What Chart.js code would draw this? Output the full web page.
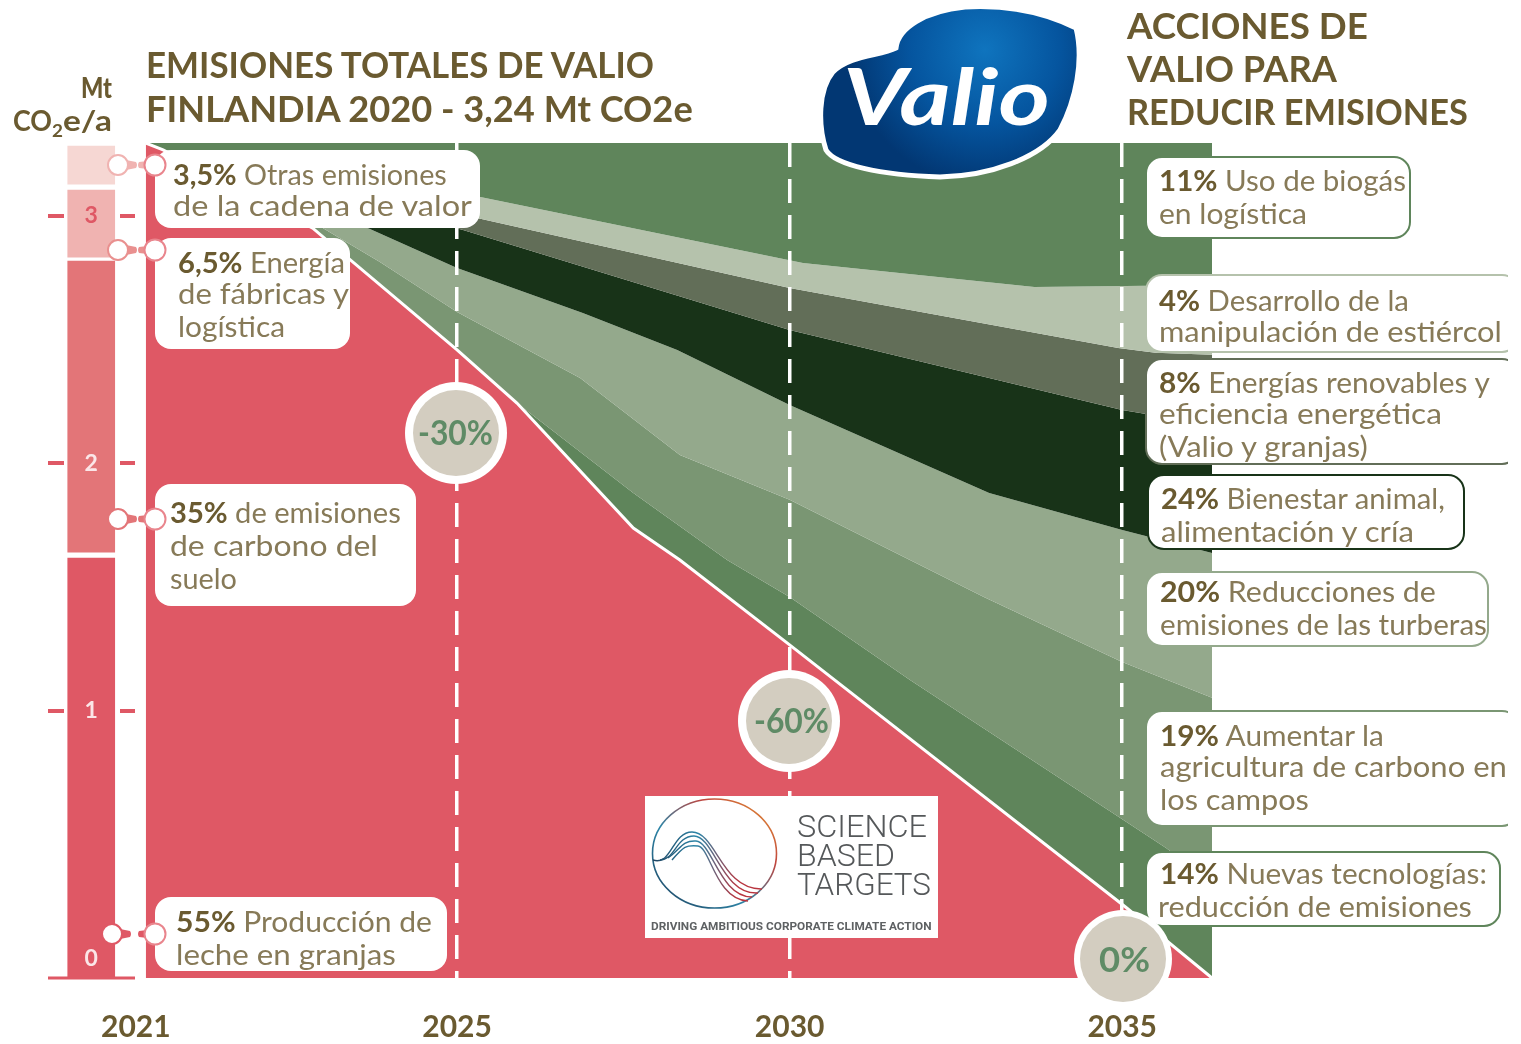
<!DOCTYPE html>
<html lang="es"><head><meta charset="utf-8">
<style>
html,body{margin:0;padding:0;background:#fff;overflow:hidden}
#wrap{position:relative;width:1521px;height:1044px}
canvas{position:absolute;left:0;top:0}
svg{position:absolute;left:0;top:0}
</style>
<script src="https://cdn.jsdelivr.net/npm/chart.js@4/dist/chart.umd.min.js"></script>
</head><body>
<div id="wrap"><canvas id="c" width="1521" height="1044"></canvas><svg id="o" width="1521" height="1044" xmlns="http://www.w3.org/2000/svg"></svg></div>
<script>
// Axis labels
const xTickLabels = ['2021','2025','2030','2035'];
const xTickYears  = [2020.17,2025,2030,2035];
const yTickValues = [0,1,2,3];
const AXIS_X_MIN = 2018.85, AXIS_X_MAX = 2036.35, AXIS_Y_MIN = -0.079, AXIS_Y_MAX = 3.295;

// Boundary lines of the wedge: [year, Mt CO2e/a], top to bottom
const biogasLine   = [[2020.32,3.295],[2020.58,3.267],[2025.35,3.077],[2030.20,2.810],[2033.68,2.713],[2035.05,2.717],[2036.35,2.721]];
const manureLine   = [[2020.32,3.295],[2020.58,3.267],[2025.30,2.992],[2030,2.709],[2034.94,2.467],[2035.5,2.447],[2036.35,2.439]];
const energyLine   = [[2020.32,3.295],[2020.58,3.267],[2025.09,2.943],[2030,2.539],[2035,2.216],[2036.35,2.156]];
const animalLine   = [[2020.32,3.295],[2020.58,3.267],[2023.69,2.947],[2025,2.790],[2026.89,2.608],[2028.31,2.459],[2030,2.236],[2033,1.881],[2035,1.731],[2036.35,1.638]];
const peatLine     = [[2020.32,3.295],[2020.58,3.267],[2022.98,2.952],[2023.84,2.814],[2025,2.612],[2026.85,2.345],[2028.35,2.034],[2030,1.853],[2032.92,1.461],[2035,1.198],[2036.35,1.053]];
const soilLine     = [[2020.32,3.295],[2020.58,3.267],[2022.83,2.951],[2025,2.459],[2025.90,2.244],[2027.65,1.881],[2029.06,1.610],[2030,1.461],[2031.81,1.125],[2035.66,0.446],[2036.35,0.305]];
const remainLine   = [[2020.32,3.295],[2020.58,3.267],[2022.83,2.951],[2025,2.459],[2025.90,2.244],[2027.65,1.739],[2028.35,1.610],[2030,1.267],[2035.05,0.208],[2036.35,-0.079]];

// Left column: share of emissions, [low, high] in Mt
const columnYear = 2019.50;
const farmSpan   = [-0.079,1.618];
const soilSpan   = [1.642,2.818];
const plantSpan  = [2.834,3.105];
const otherSpan  = [3.129,3.283];

const RED='#df5865', G1='#5f855b', G2='#b5c2ac', G3='#626e58', G4='#183318', G5='#94a98c', G6='#7a9673';
const toPts = a => a.map(p=>({x:p[0],y:p[1]}));
function area(data,fill,color,extra){return Object.assign({type:'line',data:toPts(data),fill,backgroundColor:color,borderColor:color,borderWidth:0,pointRadius:0,tension:0,order:2},extra||{});}
function col(span,color){return {type:'bar',data:[{x:columnYear,y:span}],backgroundColor:color,barThickness:47,grouped:false,order:1};}

const axisMarks={id:'axisMarks',afterDatasetsDraw(ch){
  const y=ch.scales.y,c=ch.ctx;c.save();c.strokeStyle=RED;c.lineWidth=4;
  y.ticks.forEach(t=>{if(t.value===0)return;const p=Math.round(y.getPixelForValue(t.value));
    c.beginPath();c.moveTo(48,p);c.lineTo(64,p);c.moveTo(120,p);c.lineTo(135,p);c.stroke();});
  const b=y.bottom;c.lineWidth=3;c.beginPath();c.moveTo(48,b);c.lineTo(135,b);c.stroke();c.restore();}};

new Chart(document.getElementById('c'),{
  data:{datasets:[
    area(biogasLine,'end',G1),
    area(manureLine,0,G2),
    area(energyLine,1,G3),
    area(animalLine,2,G4),
    area(peatLine,3,G5),
    area(soilLine,4,G6),
    area(remainLine,5,G1),
    area(remainLine,'start',RED,{borderColor:'#fff',borderWidth:3,order:0}),
    col(farmSpan,RED),col(soilSpan,'#e37578'),col(plantSpan,'#f0b3b1'),col(otherSpan,'#f6d7d3')
  ]},
  plugins:[axisMarks],
  options:{responsive:false,animation:false,
    layout:{padding:{left:48,right:309,top:143,bottom:0}},
    plugins:{legend:{display:false},tooltip:{enabled:false}},
    scales:{
      x:{type:'linear',offset:false,min:AXIS_X_MIN,max:AXIS_X_MAX,
        afterBuildTicks(s){s.ticks=xTickYears.map(v=>({value:v}));},
        afterFit(s){s.height=66;},
        grid:{offset:false,z:1,color:c=>c.index===0?'rgba(0,0,0,0)':'#fff',lineWidth:3.5,drawTicks:false},
        border:{display:false,dash:[24,12]},
        ticks:{autoSkip:false,maxRotation:0,padding:31,color:'#6a5a30',font:{family:'Lato',weight:'bold',size:30},
          callback:(v,i)=>xTickLabels[i]}},
      y:{type:'linear',min:AXIS_Y_MIN,max:AXIS_Y_MAX,position:{x:2019.60},
        afterBuildTicks(s){s.ticks=yTickValues.map(v=>({value:v}));},
        grid:{display:false,drawTicks:false},border:{display:false},
        ticks:{z:2,padding:0,color:c=>c.tick.value===3?RED:'#fbe6e8',font:{family:'Lato',weight:'bold',size:23}}}
    }
  }
});

// Text & decoration overlay
const NS='http://www.w3.org/2000/svg', svg=document.getElementById('o');
function el(n,a,parent){const e=document.createElementNS(NS,n);for(const k in a)e.setAttribute(k,a[k]);(parent||svg).appendChild(e);return e;}
function txt(x1,x2,base,parts,size,family){
  const t=el('text',{x:0,y:0,'font-family':family||'Lato','font-size':size});
  parts.forEach(p=>{const s=el('tspan',{fill:p[1],'font-weight':p[2]||400,'font-style':p[3]||'normal'},t);s.textContent=p[0];});
  const w=t.getComputedTextLength();
  t.setAttribute('transform','translate('+x1+','+base+') scale('+((x2-x1)/w)+',1)');return t;
}
const BOLD='#6a5a30', REG='#877a58';

// titles
[[146,654,78,'EMISIONES TOTALES DE VALIO'],[146,693,122,'FINLANDIA 2020 - 3,24 Mt CO2e'],
 [1127,1368,39,'ACCIONES DE'],[1127,1337,82,'VALIO PARA'],[1127,1468,125,'REDUCIR EMISIONES']]
 .forEach(r=>txt(r[0],r[1],r[2],[[r[3],BOLD,700]],36));
txt(81,112,98,[['Mt',BOLD,900]],28);
txt(13,52,131,[['CO',BOLD,700]],28);
txt(52,63,137,[['2',BOLD,700]],17);
txt(63,112,131,[['e/a',BOLD,700]],28);

// connector dots
[[118,165,'#f0b3b1'],[118,250,'#e9908f'],[118,519,'#e37578'],[112,934,RED]].forEach(r=>{
  const [lx,y,c]=r;
  el('path',{d:`M${lx+8} ${y-5} L${lx+18} ${y-3} Q${lx+20} ${y} ${lx+18} ${y+3} L${lx+8} ${y+5}Z`,fill:c});
  el('path',{d:`M156 ${y-5} L${146-7} ${y-3} Q${146-9} ${y} ${146-7} ${y+3} L156 ${y+5}Z`,fill:c});
  el('circle',{cx:lx,cy:y,r:10,fill:'#fff',stroke:c,'stroke-width':2});
});

// callout boxes: x,y,w,h,stroke
const boxes=[
 [155,150,325,78,'none'],[155,238,195,111,'none'],[155,484,261,122,'none'],[155,897,292,74,'none'],
 [1146,157,264,81,G1],[1146,275,372,77,G2],[1146,359,372,105,G3],[1148,475,316,74,G4],
 [1146,572,342,74,G5],[1146,711,372,115,G6],[1146,852,354,74,G1]];
boxes.forEach(b=>el('rect',{x:b[0],y:b[1],width:b[2],height:b[3],rx:16,ry:16,fill:'#fff',stroke:b[4],'stroke-width':2}));
// covers the part of right boxes running off the clip edge at 1508
el('rect',{x:1508,y:270,width:13,height:200,fill:'#fff'});
el('rect',{x:1508,y:705,width:13,height:125,fill:'#fff'});
[[155,165],[155,250],[155,519],[155,934]].forEach(p=>el('circle',{cx:p[0],cy:p[1],r:10.5,fill:'#fff',stroke:'#e9858d','stroke-width':2}));

const lines=[
 [173,447,185,'3,5%',' Otras emisiones'],[173,472,216,'','de la cadena de valor'],
 [178,345,273,'6,5%',' Energía'],[178,349,304,'','de fábricas y'],[178,285,337,'','logística'],
 [170,401,523,'35%',' de emisiones'],[170,378,556,'','de carbono del'],[170,237,589,'','suelo'],
 [176,432,932,'55%',' Producción de'],[176,396,965,'','leche en granjas'],
 [1159,1406,191,'11%',' Uso de biogás'],[1159,1307,224,'','en logística'],
 [1159,1409,311,'4%',' Desarrollo de la'],[1159,1502,342,'','manipulación de estiércol'],
 [1159,1490,393,'8%',' Energías renovables y'],[1159,1442,424,'','eficiencia energética'],[1159,1368,457,'','(Valio y granjas)'],
 [1161,1445,509,'24%',' Bienestar animal,'],[1161,1414,542,'','alimentación y cría'],
 [1160,1436,602,'20%',' Reducciones de'],[1160,1487,635,'','emisiones de las turberas'],
 [1160,1384,746,'19%',' Aumentar la'],[1160,1507,777,'','agricultura de carbono en'],[1160,1309,810,'','los campos'],
 [1160,1487,884,'14%',' Nuevas tecnologías:'],[1158,1472,917,'','reducción de emisiones']];
lines.forEach(l=>{const p=[];if(l[3])p.push([l[3],BOLD,700]);p.push([l[4],REG,400]);txt(l[0],l[1],l[2],p,29);});

// badges
[[456,433,51,43,'-30%',418,493,445],[789,721,51,43,'-60%',754,829,733],[1123,959,49,43,'0%',1099,1150,972]].forEach(b=>{
  el('circle',{cx:b[0],cy:b[1],r:b[2],fill:'#fff'});
  el('circle',{cx:b[0],cy:b[1],r:b[3],fill:'#d3cdc0'});
  txt(b[5],b[6],b[7],[[b[4],'#5f8b66',700]],35);
});

// Valio logo
const defs=el('defs',{});
const rg=el('radialGradient',{id:'vb',gradientUnits:'userSpaceOnUse',cx:985,cy:50,r:135},defs);
el('stop',{offset:'0','stop-color':'#0f74be'},rg);el('stop',{offset:'0.55','stop-color':'#05559f'},rg);el('stop',{offset:'1','stop-color':'#023773'},rg);
const lg=el('linearGradient',{id:'sc',x1:'0',y1:'1',x2:'1',y2:'0'},defs);
el('stop',{offset:'0','stop-color':'#1e3d5a'},lg);el('stop',{offset:'0.4','stop-color':'#2d86a8'},lg);el('stop',{offset:'0.7','stop-color':'#c0453f'},lg);el('stop',{offset:'1','stop-color':'#e9a030'},lg);
const lw=el('linearGradient',{id:'sw',gradientUnits:'userSpaceOnUse',x1:650,y1:860,x2:770,y2:880},defs);
el('stop',{offset:'0','stop-color':'#1e3d5a'},lw);el('stop',{offset:'0.35','stop-color':'#2d86a8'},lw);el('stop',{offset:'0.75','stop-color':'#b8353f'},lw);
el('path',{d:'M1076,28 C1040,10 1000,5 965,7 C925,11 898,28 896,48 C880,56 850,55 833,72 C818,90 818,125 826,150 C835,165 880,175 940,177 C990,176 1040,158 1060,130 C1076,100 1084,60 1076,28Z',fill:'url(#vb)',stroke:'#fff','stroke-width':5});
txt(843,1050,125,[['Valio','#fff',700,'italic']],78);

// SBT logo
el('rect',{x:645,y:796,width:293,height:142,fill:'#fff'});
el('ellipse',{cx:714.5,cy:853.5,rx:62,ry:54.5,fill:'none',stroke:'url(#sc)','stroke-width':1.6});
['M653 860 C672 866 672 832 692 832 C716 832 722 890 762 889',
 'M660 860 C675 860 676 836 694 836 C714 836 722 895 758 893',
 'M668 858 C680 850 682 840 696 841 C712 842 720 897 752 897',
 'M672 860 C684 846 686 845 698 846 C710 847 716 900 748 901'].forEach(d=>el('path',{d,fill:'none',stroke:'url(#sw)','stroke-width':1.4}));
[[797,927,837,'SCIENCE'],[797,895,866,'BASED'],[797,931,895,'TARGETS']].forEach(r=>txt(r[0],r[1],r[2],[[r[3],'#55585a',300]],31,'Roboto'));
txt(651,932,930,[['DRIVING AMBITIOUS CORPORATE CLIMATE ACTION','#5e6163',700]],11.5,'Roboto');
</script>
</body></html>
